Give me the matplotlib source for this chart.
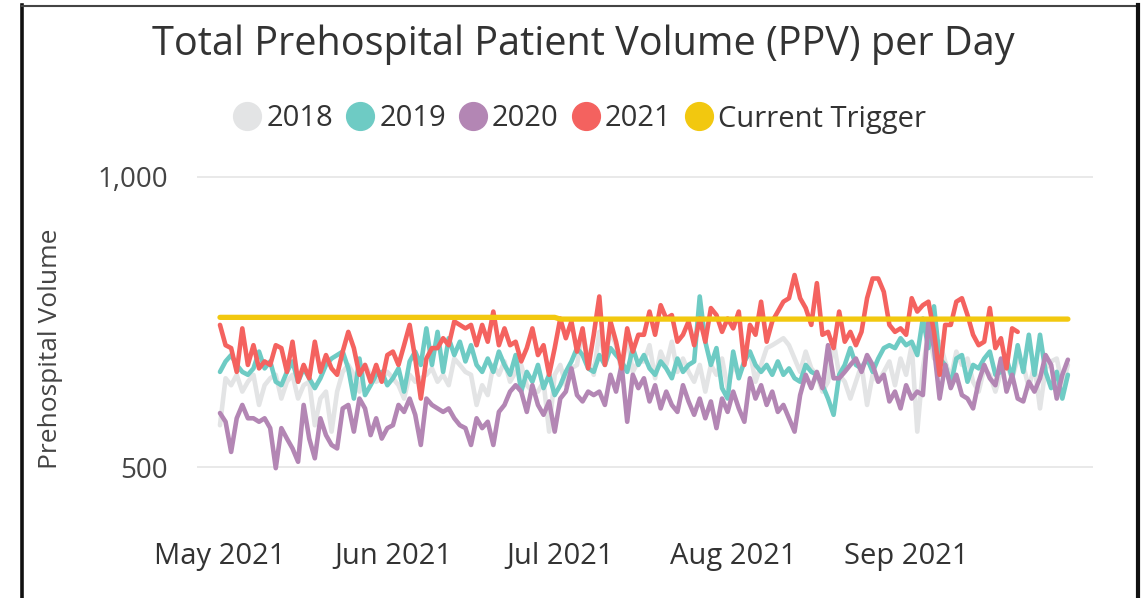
import numpy as np
import pandas as pd
import matplotlib
matplotlib.use("Agg")
import matplotlib.pyplot as plt
import matplotlib.dates as mdates
from matplotlib.lines import Line2D

plt.rcParams['font.family'] = ['Open Sans', 'DejaVu Sans']

# daily values, 1 May 2021 .. 30 Sep 2021 (same calendar days of each year)
dates = pd.date_range("2021-05-01", "2021-09-30", freq="D")
month_ticks = pd.date_range("2021-05-01", "2021-09-01", freq="MS")

v2018 = [572, 653, 641, 659, 630, 647, 659, 607, 641, 653,
         659, 618, 647, 659, 618, 641, 647, 572, 618, 630,
         561, 630, 664, 676, 659, 630, 676, 659, 647, 653,
         664, 653, 641, 618, 659, 647, 653, 659, 670, 647,
         659, 641, 687, 676, 664, 659, 607, 641, 624, 676,
         659, 682, 647, 664, 676, 641, 630, 630, 647, 561,
         659, 676, 641, 670, 676, 733, 687, 659, 733, 687,
         733, 710, 664, 728, 664, 682, 682, 710, 653, 699,
         676, 716, 664, 687, 664, 647, 676, 630, 676, 659,
         687, 636, 676, 659, 682, 699, 647, 676, 705, 710,
         716, 722, 710, 687, 664, 699, 670, 659, 630, 647,
         716, 659, 647, 618, 647, 676, 607, 659, 647, 664,
         682, 641, 687, 659, 710, 561, 670, 733, 687, 716,
         682, 653, 699, 676, 687, 647, 630, 670, 659, 630,
         664, 676, 653, 687, 676, 636, 676, 601, 670, 682,
         687, 641, 676]

v2019 = [664, 682, 693, 676, 664, 659, 670, 699, 670, 682,
         647, 641, 664, 682, 647, 670, 653, 636, 653, 676,
         687, 693, 699, 670, 618, 687, 624, 641, 659, 664,
         641, 653, 670, 630, 682, 699, 676, 739, 676, 733,
         664, 722, 693, 716, 682, 710, 676, 664, 687, 664,
         699, 676, 659, 693, 630, 664, 647, 676, 636, 659,
         624, 641, 664, 682, 705, 693, 670, 664, 693, 676,
         705, 693, 682, 664, 705, 676, 693, 670, 659, 682,
         670, 653, 687, 664, 676, 682, 794, 716, 676, 705,
         636, 618, 699, 653, 682, 699, 676, 664, 676, 659,
         682, 659, 670, 653, 647, 676, 664, 659, 641, 618,
         590, 659, 676, 705, 676, 670, 687, 664, 687, 705,
         710, 705, 722, 710, 716, 693, 756, 705, 777, 687,
         676, 641, 687, 693, 647, 676, 670, 687, 699, 659,
         664, 687, 653, 710, 664, 728, 659, 728, 664, 636,
         664, 618, 659]

v2020 = [593, 578, 526, 584, 607, 584, 584, 578, 584, 567,
         498, 567, 549, 532, 509, 607, 549, 515, 584, 555,
         538, 532, 601, 607, 561, 618, 601, 555, 584, 549,
         567, 572, 607, 595, 618, 590, 538, 618, 607, 601,
         595, 601, 584, 572, 567, 538, 584, 567, 578, 538,
         595, 607, 630, 641, 630, 595, 641, 607, 590, 613,
         561, 618, 630, 670, 624, 613, 630, 624, 630, 607,
         659, 630, 676, 578, 659, 636, 653, 613, 641, 601,
         630, 607, 595, 641, 613, 590, 618, 584, 613, 567,
         618, 595, 630, 601, 578, 653, 618, 641, 607, 630,
         595, 607, 584, 561, 624, 659, 636, 664, 636, 710,
         653, 653, 664, 676, 687, 664, 693, 676, 647, 659,
         613, 630, 601, 641, 618, 630, 624, 751, 705, 618,
         676, 636, 659, 624, 618, 601, 647, 676, 653, 641,
         687, 630, 659, 618, 613, 647, 630, 653, 693, 676,
         618, 659, 685]

# 2021 data stops on 22 Sep
v2021 = [745, 710, 705, 664, 739, 676, 710, 670, 682, 676,
         710, 705, 664, 716, 647, 676, 653, 716, 664, 693,
         670, 659, 699, 733, 705, 659, 676, 647, 676, 647,
         693, 699, 676, 710, 745, 687, 618, 687, 705, 705,
         722, 710, 751, 745, 739, 745, 710, 745, 716, 768,
         710, 739, 710, 716, 682, 705, 739, 693, 710, 659,
         705, 756, 722, 751, 699, 739, 670, 728, 794, 676,
         751, 716, 670, 739, 699, 728, 728, 768, 728, 779,
         756, 762, 716, 728, 751, 710, 756, 716, 774, 762,
         733, 756, 739, 768, 676, 745, 728, 785, 716, 751,
         768, 785, 791, 831, 791, 774, 745, 817, 728, 733,
         705, 768, 716, 733, 710, 733, 791, 825, 825, 802,
         745, 733, 739, 728, 791, 768, 779, 785, 733, 659,
         745, 745, 785, 791, 762, 728, 710, 716, 774, 705,
         722, 670, 739, 733]

trigger_may_jun = 758
trigger_jul_sep = 755
trigger = np.where(dates < pd.Timestamp("2021-07-01"), trigger_may_jun, trigger_jul_sep)

series = [
    ("2018", dates, v2018, "#E3E4E5"),
    ("2019", dates, v2019, "#6ECBC4"),
    ("2020", dates, v2020, "#B386B4"),
    ("2021", dates[:len(v2021)], v2021, "#F4625F"),
]

W, H = 1142, 598
fig = plt.figure(figsize=(W / 100, H / 100), dpi=100)

# plot area in pixels: x 197..1093, y-range 440..1030 -> 159.6..501.8 px
top_px, bot_px = 159.6, 501.8
ax = fig.add_axes([197 / W, 1 - bot_px / H, (1093 - 197) / W, (bot_px - top_px) / H])

for name, x, y, c in series:
    ax.plot(x, y, color=c, lw=3.3, solid_joinstyle="round", solid_capstyle="round")
ax.plot(dates, trigger, color="#F2C80F", lw=3.8, solid_capstyle="round")

d0 = mdates.date2num(dates[0])
ax.set_xlim(d0 - 4.12, d0 + 156.5)
ax.set_ylim(440, 1030)

ax.set_yticks([500, 1000])
ax.set_yticklabels(["500", "1,000"])
ax.grid(axis="y", color="#E9E9E9", lw=1.4)
ax.set_axisbelow(True)
ax.set_xticks(month_ticks)
ax.xaxis.set_major_formatter(mdates.DateFormatter("%b %Y"))
ax.tick_params(axis="y", length=0, pad=21, labelsize=20, labelcolor="#444444")
ax.tick_params(axis="x", length=0, pad=29, labelsize=21, labelcolor="#333333")
for s in ax.spines.values():
    s.set_visible(False)

fig.text(0.044, 1 - 349 / H, "Prehospital Volume", rotation=90, ha="center", va="center",
         fontsize=19, color="#444444")
fig.text(0.511, 1 - 45 / H, "Total Prehospital Patient Volume (PPV) per Day", ha="center",
         va="center", fontsize=28.5, color="#333333")

handles = [Line2D([], [], ls="", marker="o", markersize=20, color=c) for _, _, _, c in series]
handles.append(Line2D([], [], ls="", marker="o", markersize=20, color="#F2C80F"))
labels = [s[0] for s in series] + ["Current Trigger"]
fig.legend(handles, labels, loc="center", bbox_to_anchor=(0.5075, 1 - 119 / H), ncol=5,
           frameon=False, fontsize=21, handlelength=0.95, handletextpad=0.18,
           columnspacing=0.45, borderpad=0, labelcolor="#333333")

# report frame
fig.add_artist(Line2D([22 / W, 22 / W], [0, 1 - 5 / H], color="#111111", lw=2.6))
fig.add_artist(Line2D([22 / W, 1138 / W], [1 - 6 / H, 1 - 6 / H], color="#444444", lw=1.5))
fig.add_artist(Line2D([1138 / W, 1138 / W], [0, 1 - 5 / H], color="#111111", lw=3))

fig.savefig("out.png", dpi=100)
